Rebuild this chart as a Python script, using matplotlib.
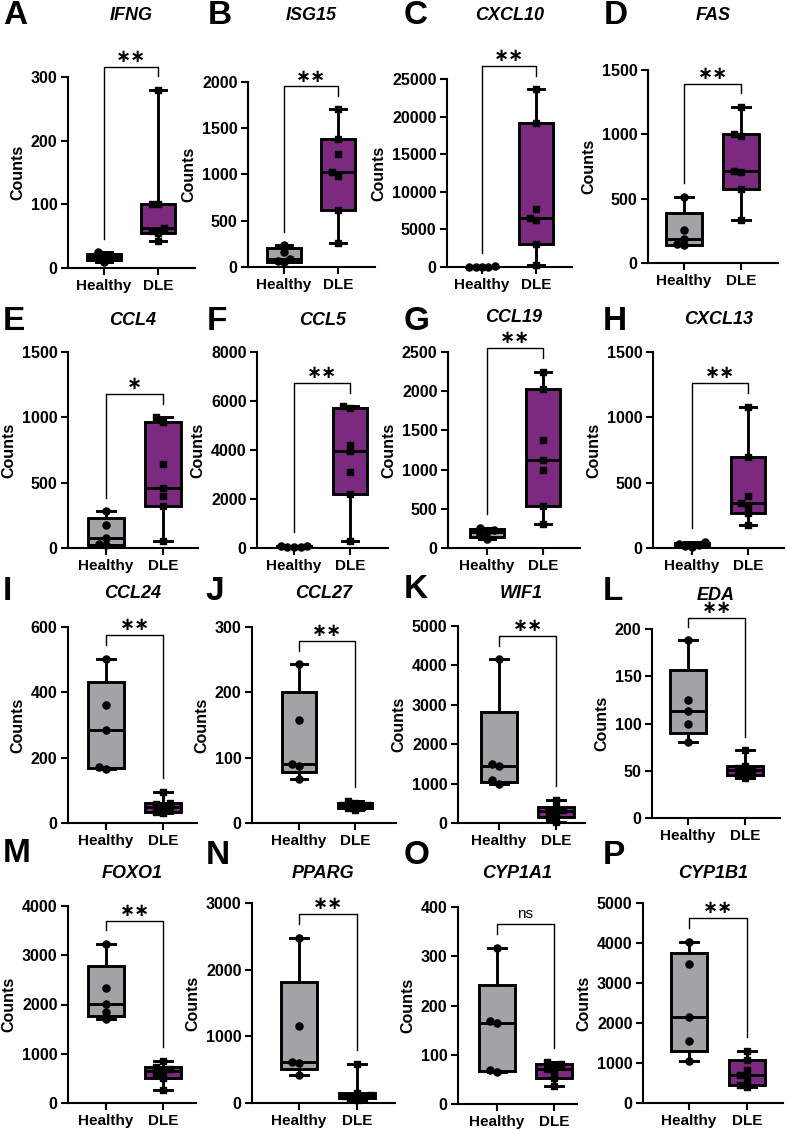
import matplotlib
matplotlib.use("Agg")
import matplotlib.pyplot as plt
import numpy as np

plt.rcParams['font.family'] = ['Liberation Sans', 'DejaVu Sans']
plt.rcParams['font.weight'] = 'bold'

# gegevens per paneel
letters = list("ABCDEFGHIJKLMNOP")
genes = ["IFNG", "ISG15", "CXCL10", "FAS", "CCL4", "CCL5", "CCL19", "CXCL13",
         "CCL24", "CCL27", "WIF1", "EDA", "FOXO1", "PPARG", "CYP1A1", "CYP1B1"]
y_max = [300, 2000, 25000, 1500, 1500, 8000, 2500, 1500, 600, 300, 5000, 200, 4000, 3000, 400, 5000]
y_step = [100, 500, 5000, 500, 500, 2000, 500, 500, 200, 100, 1000, 50, 1000, 1000, 100, 1000]
signif = ["**", "**", "**", "**", "*", "**", "**", "**", "**", "**", "**", "**", "**", "**", "ns", "**"]

healthy = [
    [10, 14, 17, 19, 25],
    [50, 60, 85, 160, 240],
    [20, 30, 40, 50, 80],
    [140, 145, 185, 260, 515],
    [20, 30, 80, 175, 280],
    [30, 40, 60, 70, 90],
    [120, 160, 200, 230, 260],
    [8, 15, 20, 30, 45],
    [165, 172, 285, 362, 503],
    [67, 88, 90, 157, 243],
    [1000, 1080, 1450, 1500, 4150],
    [80, 99, 113, 125, 188],
    [1710, 1840, 2005, 2330, 3225],
    [420, 600, 620, 1160, 2480],
    [64, 70, 165, 168, 317],
    [1045, 1555, 2140, 3470, 4020],
]
dle = [
    [42, 55, 58, 63, 100, 101, 280],
    [260, 612, 980, 1027, 1225, 1387, 1712],
    [220, 3000, 6300, 6500, 7750, 19100, 23700],
    [336, 575, 705, 715, 985, 1000, 1215],
    [50, 320, 400, 460, 645, 965, 1000],
    [300, 2200, 3100, 3950, 4200, 5700, 5780],
    [310, 540, 1000, 1120, 1380, 2030, 2250],
    [175, 265, 320, 345, 395, 700, 1080],
    [30, 35, 42, 50, 58, 62, 95],
    [20, 23, 25, 27, 28, 31, 34],
    [20, 150, 230, 300, 330, 400, 590],
    [42, 46, 49, 51, 53, 55, 72],
    [260, 500, 600, 640, 700, 740, 860],
    [50, 70, 90, 100, 120, 150, 590],
    [36, 52, 65, 72, 78, 82, 86],
    [400, 450, 570, 690, 820, 1070, 1300],
]

# layout in pixels: y-as x, Healthy x, DLE x, rechts, boven (ymax), onder (0)
layout = [
    (68, 104, 158, 195, 77, 268), (248, 284, 338, 375, 82, 267),
    (447, 482, 536, 572, 79, 267), (648, 684, 741, 778, 70, 263),
    (68, 106, 163, 198, 352, 548), (257, 294, 350, 388, 352, 548),
    (448, 487, 543, 580, 352, 548), (653, 692, 748, 784, 352, 548),
    (68, 106, 163, 197, 627, 823), (252, 299, 355, 396, 627, 823),
    (458, 499, 556, 585, 626, 823), (652, 688, 745, 780, 629, 818),
    (68, 106, 163, 196, 906, 1103), (252, 299, 357, 395, 903, 1103),
    (458, 497, 554, 577, 907, 1104), (643, 689, 747, 783, 903, 1103),
]
title_y = [15, 15, 15, 15, 321, 321, 318, 320, 593, 593, 593, 595, 873, 873, 873, 873]
letter_pos = [(3, 15), (208, 15), (404, 15), (604, 15),
              (3, 322), (207, 322), (404, 322), (603, 322),
              (3, 592), (205, 592), (404, 590), (603, 592),
              (3, 853), (206, 855), (404, 855), (603, 855)]

W, H = 787, 1131
gray = '#a2a2a7'
purple = '#7b2a80'


def swarm(vals, ymax):
    placed = []
    offs = []
    for v in vals:
        for off in [0, -0.12, 0.12, -0.24, 0.24, -0.36, 0.36]:
            ok = True
            for px, py in placed:
                if abs(px - off) < 0.11 and abs(py - v) / ymax < 0.03:
                    ok = False
                    break
            if ok:
                break
        placed.append((off, v))
        offs.append(off)
    return np.array(offs)


def stats(vals):
    v = np.array(vals, dtype=float)
    q1, med, q3 = np.percentile(v, [25, 50, 75], method='weibull')
    return dict(med=med, q1=q1, q3=q3, whislo=v.min(), whishi=v.max(), fliers=[])


fig = plt.figure(figsize=(W / 100, H / 100), dpi=100)

for i in range(16):
    axx, hx, dx, rx, ty, by = layout[i]
    s = dx - hx
    ax = fig.add_axes([axx / W, 1 - by / H, (rx - axx) / W, (by - ty) / H])
    ymax = y_max[i]

    bp = ax.bxp([stats(healthy[i]), stats(dle[i])], positions=[0, 1], widths=0.62,
                capwidths=0.3, patch_artist=True, showfliers=False,
                boxprops=dict(linewidth=2.1, edgecolor='black'),
                whiskerprops=dict(linewidth=2.1, color='black'),
                capprops=dict(linewidth=2.1, color='black'),
                medianprops=dict(linewidth=2.1, color='black'))
    bp['boxes'][0].set_facecolor(gray)
    bp['boxes'][1].set_facecolor(purple)
    for art in bp['boxes'] + bp['whiskers'] + bp['caps'] + bp['medians']:
        art.set_clip_on(False)

    ax.scatter(swarm(healthy[i], ymax), healthy[i], s=26, marker='o', color='black',
               zorder=5, clip_on=False)
    ax.scatter(1 + swarm(dle[i], ymax), dle[i], s=25, marker='s', color='black',
               zorder=5, clip_on=False)

    # significantie-haak
    top = max(max(healthy[i]), max(dle[i])) + 0.12 * ymax
    lb = min(max(healthy[i]) + 0.07 * ymax, top - 0.02 * ymax)
    rb = min(max(dle[i]) + 0.07 * ymax, top - 0.02 * ymax)
    ax.plot([0, 0, 1, 1], [lb, top, top, rb], color='black', lw=1.0, clip_on=False)
    if signif[i] == 'ns':
        ax.text(0.5, top + 0.015 * ymax, 'ns', ha='center', va='bottom',
                fontsize=11, fontweight='normal')
    else:
        ax.text(0.5, top + 0.005 * ymax, signif[i].replace('*', '\u2217'), ha='center',
                va='bottom', fontsize=13, fontweight='bold', family='DejaVu Sans')

    ax.set_xlim(-(hx - axx) / s, 1 + (rx - dx) / s)
    ax.set_ylim(0, ymax)
    ax.set_yticks(np.arange(0, ymax + 1, y_step[i]))
    ax.set_xticks([0, 1])
    ax.set_xticklabels(['Healthy', 'DLE'], fontsize=11, fontweight='bold')
    ax.tick_params(axis='y', labelsize=11.5, width=1.5, length=5, pad=2.5)
    ax.tick_params(axis='x', width=1.5, length=5, pad=3)
    for lab in ax.get_yticklabels():
        lab.set_fontweight('bold')
    ax.set_ylabel('Counts', fontsize=11.5, fontweight='bold', labelpad=4)
    for sp in ['top', 'right']:
        ax.spines[sp].set_visible(False)
    for sp in ['left', 'bottom']:
        ax.spines[sp].set_linewidth(1.5)

    fig.text((axx + rx) / 2 / W, 1 - title_y[i] / H, genes[i], ha='center', va='center',
             fontsize=13, fontweight='bold', style='italic')
    lx, ly = letter_pos[i]
    fig.text(lx / W, 1 - ly / H, letters[i], ha='left', va='center',
             fontsize=24, fontweight='bold')

fig.savefig('out.png', dpi=100)
